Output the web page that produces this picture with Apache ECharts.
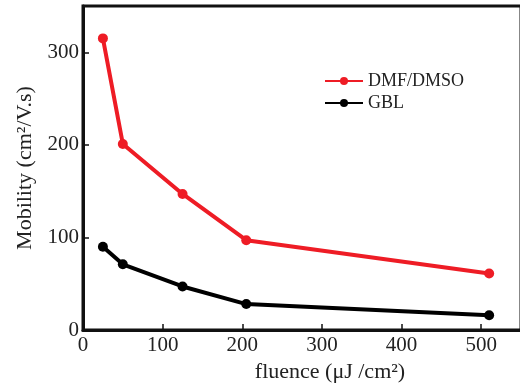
<!DOCTYPE html>
<html>
<head>
<meta charset="utf-8">
<script src="https://cdn.jsdelivr.net/npm/echarts@6/dist/echarts.min.js"></script>
<style>
  html, body {margin: 0; padding: 0; background: #fff;}
  #chart {width: 520px; height: 385px;}
</style>
</head>
<body>
<div id="chart"></div>
<script>
const fluence = [25, 50, 125, 205, 510]
const dmfDmso = [315, 201, 147, 97, 61]
const gbl = [90, 71, 47, 28, 16]

const serif = 'Liberation Serif'
const chart = echarts.init(document.getElementById('chart'))

const axisCommon = {
  axisLine: {show: true, lineStyle: {color: '#111', width: 3}},
  axisTick: {show: true, inside: true, length: 6, lineStyle: {color: '#111', width: 1.5}},
  splitLine: {show: false},
  axisLabel: {color: '#222', fontFamily: serif, fontSize: 21, showMaxLabel: false},
  nameTextStyle: {color: '#222', fontFamily: serif, fontSize: 22},
  nameLocation: 'middle'
}

chart.setOption({
  animation: false,
  grid: {
    left: 83, top: 6, width: 438, height: 324,
    outerBoundsMode: 'none', containLabel: false,
    show: true, borderColor: '#111', borderWidth: 3
  },
  legend: {
    left: 319, top: 67,
    orient: 'vertical',
    itemWidth: 38, itemHeight: 10, itemGap: 4,
    textStyle: {fontFamily: serif, fontSize: 18, color: '#222'},
    data: ['DMF/DMSO', 'GBL']
  },
  xAxis: {
    ...axisCommon,
    type: 'value', min: 0, max: 550, interval: 100,
    name: 'fluence (μJ /cm²)', nameGap: 28,
    nameTextStyle: {...axisCommon.nameTextStyle, padding: [0, 0, 0, 56]},
    axisLabel: {...axisCommon.axisLabel, margin: 5}
  },
  yAxis: {
    ...axisCommon,
    type: 'value', min: 0, max: 350, interval: 100,
    name: 'Mobility (cm²/V.s)', nameGap: 42,
    axisLabel: {...axisCommon.axisLabel, margin: 4}
  },
  series: [
    {name: 'DMF/DMSO', color: '#ee1c25', data: fluence.map((x, i) => [x, dmfDmso[i]])},
    {name: 'GBL', color: '#000', data: fluence.map((x, i) => [x, gbl[i]])}
  ].map((s) => ({
    ...s,
    type: 'line',
    symbol: 'circle',
    symbolSize: 10,
    lineStyle: {width: 4}
  }))
})
</script>
</body>
</html>
